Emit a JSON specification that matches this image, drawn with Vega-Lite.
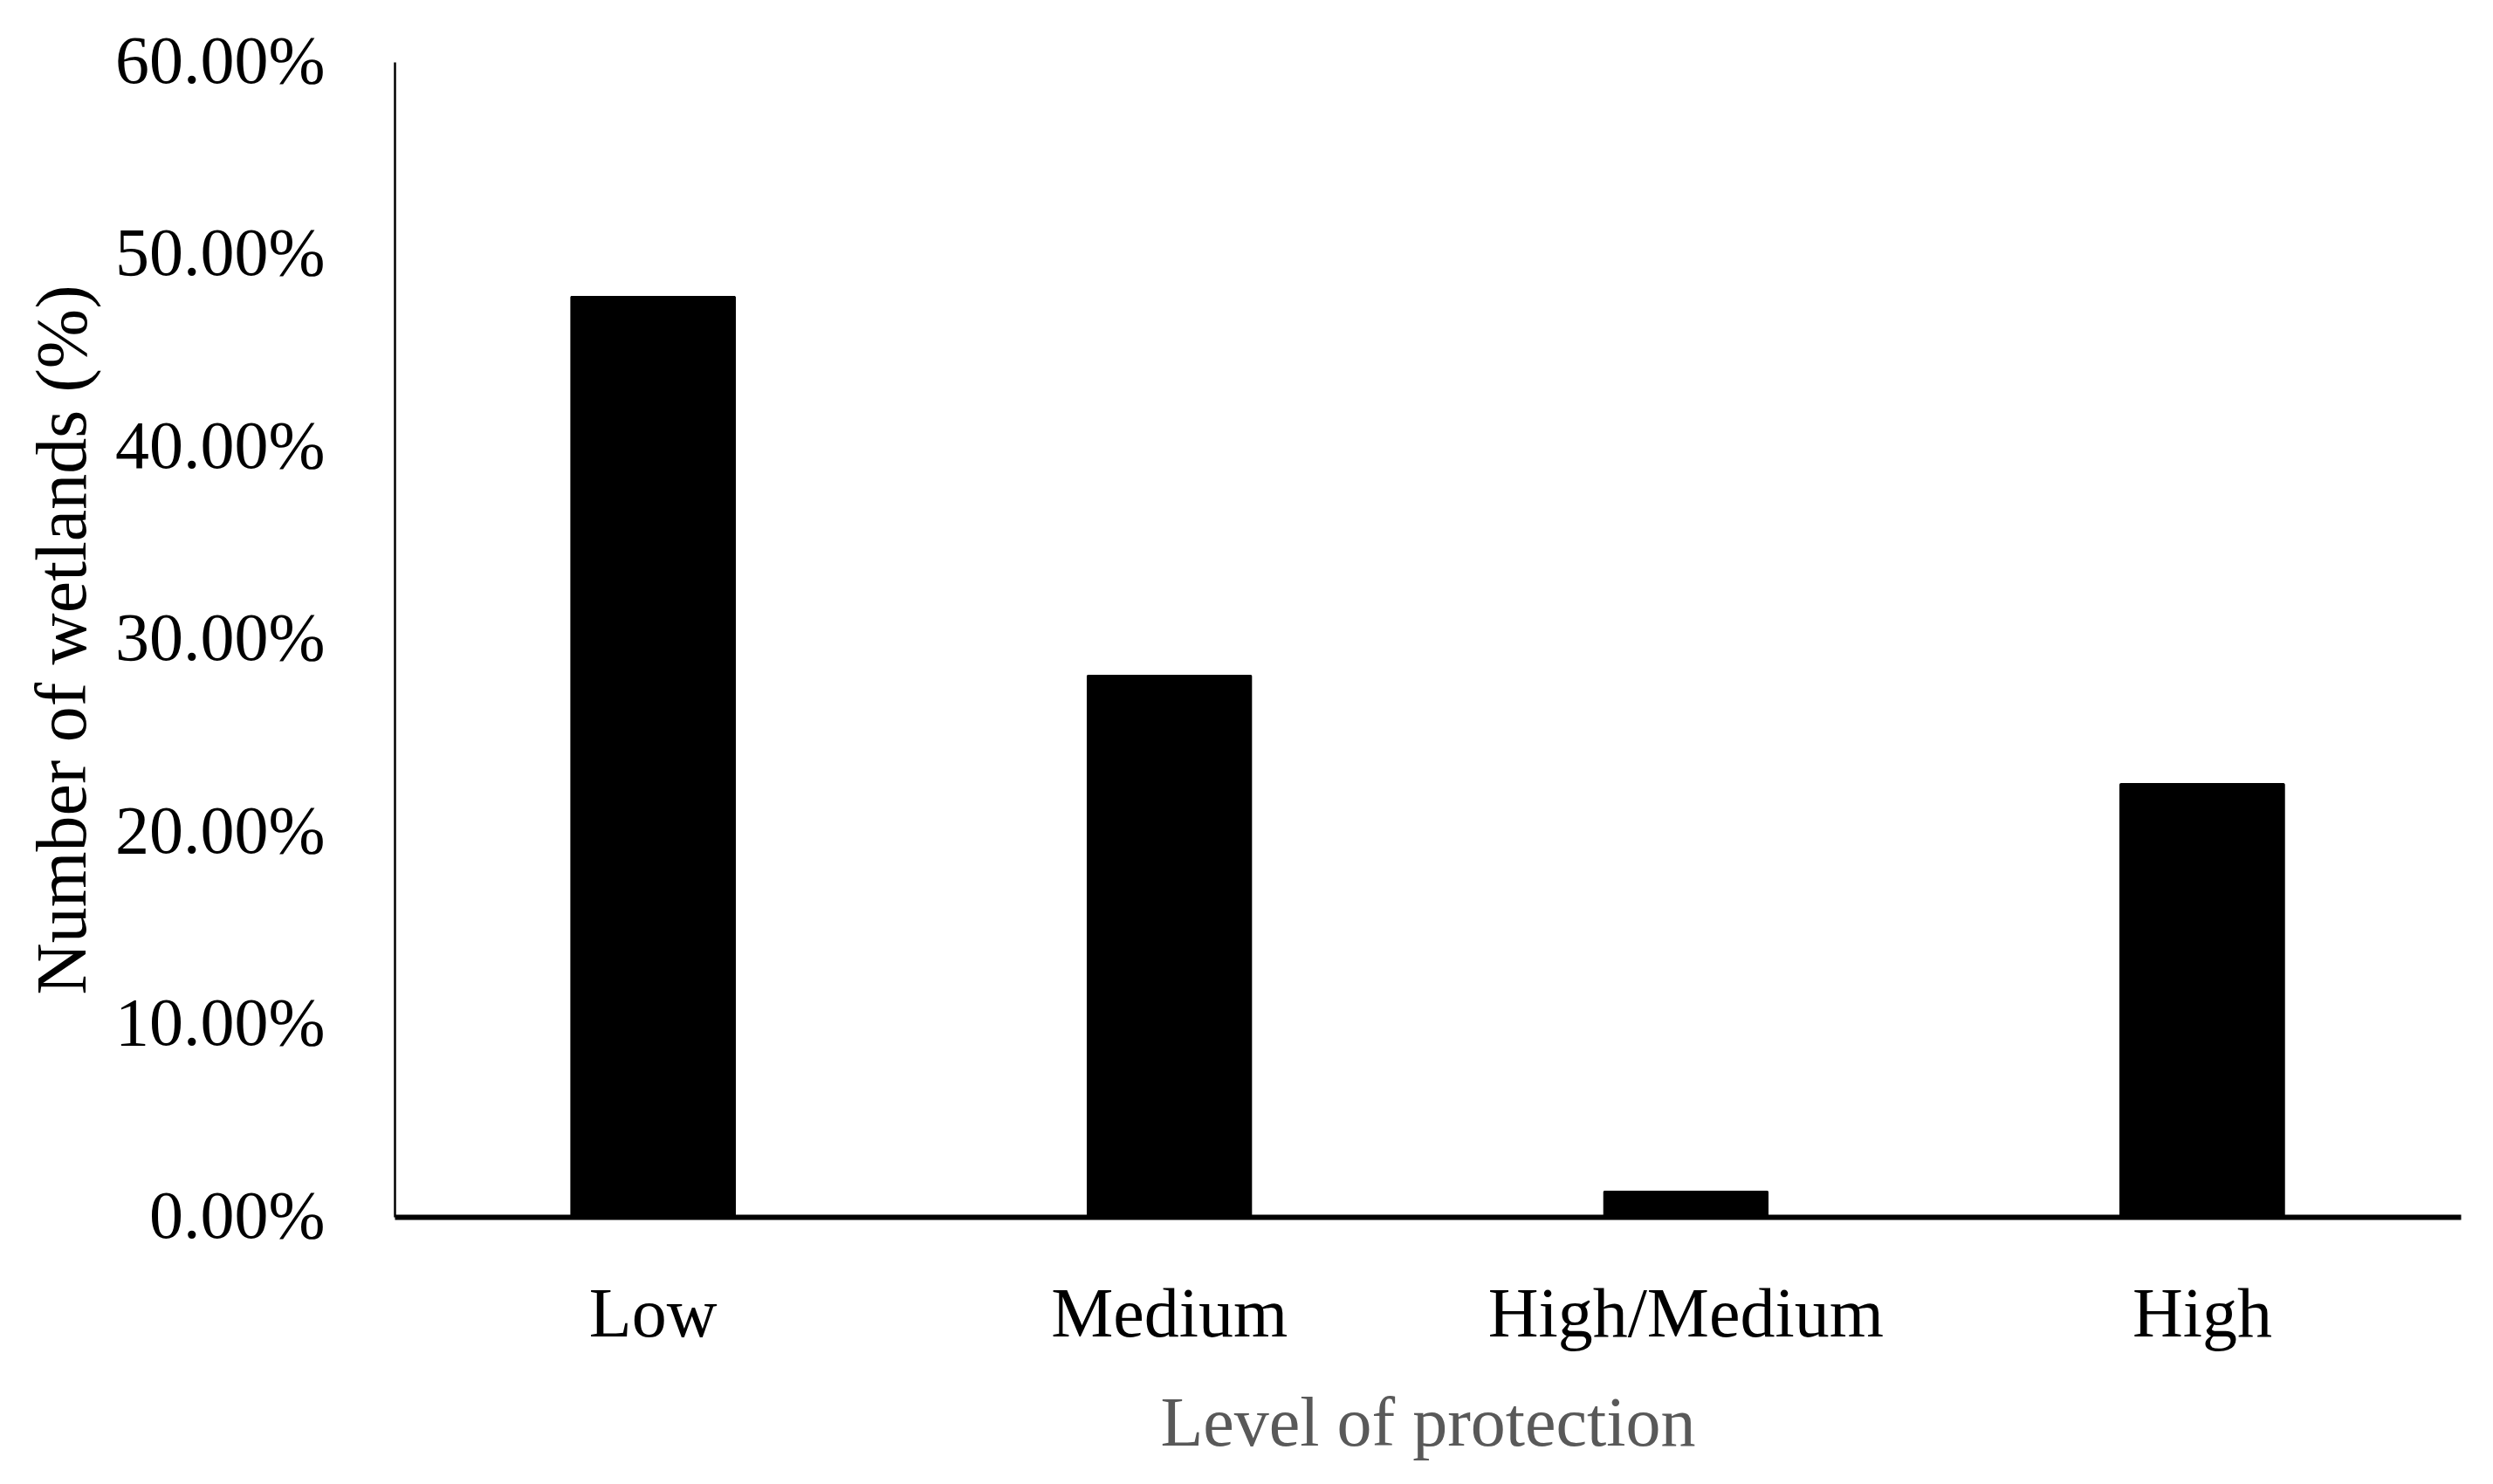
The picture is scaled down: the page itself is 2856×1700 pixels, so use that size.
{
  "$schema": "https://vega.github.io/schema/vega-lite/v6.json",
  "autosize": {"type": "none"},
  "padding": {"left": 452, "top": 71, "right": 37, "bottom": 306},
  "width": 2367,
  "height": 1323,
  "background": "white",
  "data": {
    "values": [
      {"level": "Low", "share": 0.4785},
      {"level": "Medium", "share": 0.2816},
      {"level": "High/Medium", "share": 0.0136},
      {"level": "High", "share": 0.2254}
    ]
  },
  "mark": {"type": "bar", "color": "black", "cornerRadius": 2},
  "encoding": {
    "x": {
      "field": "level",
      "type": "nominal",
      "sort": null,
      "scale": {"paddingInner": 0.679, "paddingOuter": 0.34},
      "axis": {
        "title": "Level of protection",
        "labelAngle": 0,
        "labelLimit": 0,
        "ticks": false,
        "tickSize": 0,
        "labelPadding": 73,
        "labelFontSize": 80,
        "labelColor": "black",
        "domainColor": "black",
        "domainWidth": 6,
        "titleFontSize": 80,
        "titleFontWeight": "normal",
        "titleColor": "#595959",
        "titleBaseline": "alphabetic",
        "titleY": 261
      }
    },
    "y": {
      "field": "share",
      "type": "quantitative",
      "scale": {"domain": [0, 0.6]},
      "axis": {
        "title": "Number of wetlands (%)",
        "values": [0, 0.1, 0.2, 0.3, 0.4, 0.5, 0.6],
        "format": ".2%",
        "grid": false,
        "ticks": false,
        "tickSize": 0,
        "labelLimit": 0,
        "labelPadding": 80,
        "labelFontSize": 78,
        "labelColor": "black",
        "domainColor": "black",
        "domainWidth": 2.5,
        "titleFontSize": 82,
        "titleFontWeight": "normal",
        "titleColor": "black",
        "titleBaseline": "alphabetic",
        "titleLimit": 0,
        "titleX": -355
      }
    }
  },
  "config": {
    "font": "Liberation Serif",
    "view": {"stroke": null}
  }
}
